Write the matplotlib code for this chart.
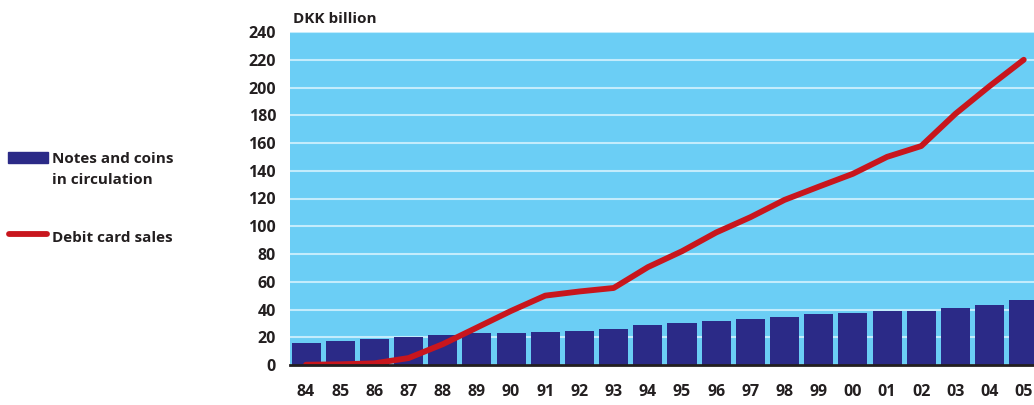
import matplotlib
matplotlib.use("Agg")
import matplotlib.pyplot as plt
from matplotlib.lines import Line2D
from matplotlib.patches import Rectangle

years = ["84", "85", "86", "87", "88", "89", "90", "91", "92", "93", "94",
         "95", "96", "97", "98", "99", "00", "01", "02", "03", "04", "05"]
notes_coins = [16.1, 17.3, 18.5, 20.2, 21.8, 23.0, 23.3, 24.0, 24.7, 25.7, 28.8,
               30.3, 31.4, 32.9, 34.3, 36.5, 37.5, 39.1, 38.9, 41.1, 43.5, 47.0]
debit_card = [0.2, 0.5, 1.2, 5.0, 15.0, 27.0, 39.0, 50.0, 53.0, 55.5, 70.5,
              82.0, 95.5, 106.5, 119.0, 128.5, 137.8, 150.0, 157.8, 181.0, 201.0, 220.0]
y_ticks = list(range(0, 241, 20))

BAR_COLOR = "#2b2a87"
LINE_COLOR = "#c8161d"
BG_COLOR = "#6bcef5"
GRID_COLOR = "#c3ecfc"
TEXT_COLOR = "#231f20"
FS = 11.5

plt.rcParams["font.family"] = ["Open Sans", "DejaVu Sans"]

fig = plt.figure(figsize=(10.34, 4.05), dpi=100)
ax = fig.add_axes([290 / 1034, 40 / 405, 744 / 1034, 333 / 405])
ax.set_facecolor(BG_COLOR)

x = list(range(len(years)))
ax.bar(x, notes_coins, width=0.85, color=BAR_COLOR, zorder=2)
ax.plot(x, debit_card, color=LINE_COLOR, linewidth=4.2, solid_capstyle="round",
        solid_joinstyle="round", zorder=3)

ax.set_xlim(-0.47, 21.3)
ax.set_ylim(0, 240)
ax.set_yticks(y_ticks)
ax.set_xticks(x)
ax.set_xticklabels(years)
ax.yaxis.grid(True, color=GRID_COLOR, linewidth=1.5, zorder=1)
ax.set_axisbelow(True)

for s in ["top", "right", "left"]:
    ax.spines[s].set_visible(False)
ax.spines["bottom"].set_color("#231f20")
ax.spines["bottom"].set_linewidth(2.0)
ax.spines["bottom"].set_zorder(4)

ax.tick_params(axis="both", length=0, labelsize=FS, labelcolor=TEXT_COLOR)
ax.tick_params(axis="y", pad=10)
ax.tick_params(axis="x", pad=14)
for lbl in ax.get_xticklabels() + ax.get_yticklabels():
    lbl.set_fontweight("bold")

fig.text(293 / 1034, 1 - 19 / 405, "DKK billion", fontsize=11, fontweight="bold",
         color=TEXT_COLOR, va="center", ha="left")

# legend drawn by hand on the left side
LFS = 11
fig.patches.append(Rectangle((8 / 1034, 1 - 163 / 405), 40 / 1034, 11 / 405,
                             transform=fig.transFigure, color=BAR_COLOR))
fig.text(52 / 1034, 1 - 159 / 405, "Notes and coins", fontsize=LFS,
         fontweight="bold", color=TEXT_COLOR, va="center", ha="left")
fig.text(52 / 1034, 1 - 180 / 405, "in circulation", fontsize=LFS,
         fontweight="bold", color=TEXT_COLOR, va="center", ha="left")
fig.lines.append(Line2D([9 / 1034, 47 / 1034], [1 - 234 / 405, 1 - 234 / 405],
                        transform=fig.transFigure, color=LINE_COLOR, linewidth=4.2,
                        solid_capstyle="round"))
fig.text(52 / 1034, 1 - 238 / 405, "Debit card sales", fontsize=LFS,
         fontweight="bold", color=TEXT_COLOR, va="center", ha="left")

fig.savefig("out.png", dpi=100)
